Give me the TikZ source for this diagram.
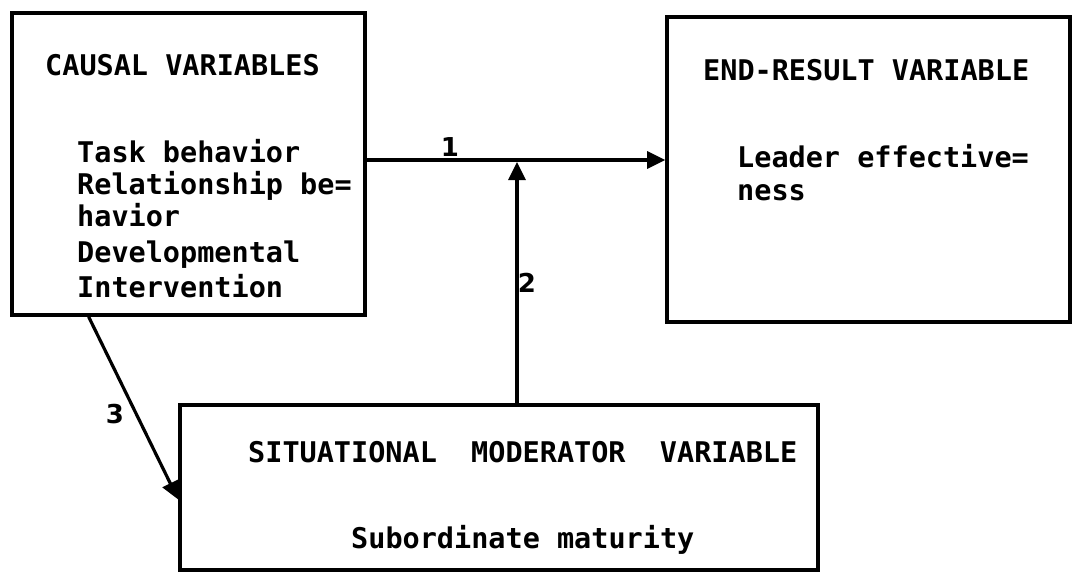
\documentclass[tikz,border=0pt]{standalone}
\usepackage{fontspec}
\usetikzlibrary{arrows.meta,calc}
\newfontfamily\twfont{DejaVu Sans Mono}
\newfontfamily\labfont{DejaVu Sans}
\tikzset{
  box/.style={draw, line width=3.6pt, inner sep=0pt},
  txt/.style={anchor=base west, inner sep=0pt, font=\twfont\bfseries\fontsize{28.5}{34}\selectfont},
  arr/.style={line width=3.2pt, -{Triangle[length=18pt,width=17pt]}},
  num/.style={inner sep=0pt, font=\labfont\bfseries\fontsize{26}{28}\selectfont}
}
\begin{document}
\begin{tikzpicture}[x=1pt,y=-1pt]
\useasboundingbox (0,0) rectangle (1074,574);
% boxes
\node[box, minimum width=353pt, minimum height=302pt] (causal) at (188.5,164) {};
\node[box, minimum width=403pt, minimum height=305pt] (endbox) at (868.5,169.5) {};
\node[box, minimum width=638pt, minimum height=165pt] (sit) at (499,487.5) {};
% texts
\node[txt] (c0) at (45,75) {CAUSAL VARIABLES};
\node[txt] (c1) at (77,162) {Task behavior};
\node[txt] (c2) at (77,194) {Relationship be=};
\node[txt] (c3) at (77,226) {havior};
\node[txt] (c4) at (77,262) {Developmental};
\node[txt] (c5) at (77,297) {Intervention};
\node[txt] (e0) at (703,80) {END-RESULT VARIABLE};
\node[txt] (e1) at (737,167) {Leader effective=};
\node[txt] (e2) at (737,200) {ness};
\node[txt] (s0) at (248,462) {SITUATIONAL~~MODERATOR~~VARIABLE};
\node[txt] (s1) at (351,548) {Subordinate maturity};
% connectors
\coordinate (j) at (517,160);
\coordinate (jt) at (517,162);
\draw[arr] (causal.east |- j) -- (endbox.west |- j);
\draw[arr] (sit.north -| jt) -- (jt);
\draw[arr] ($(causal.south west)!0.22!(causal.south east)$) -- ([yshift=-12pt]sit.west);
% labels
\node[num] (n1) at (450,147) {1};
\node[num] (n2) at (527,283) {2};
\node[num] (n3) at (115,414) {3};
\end{tikzpicture}
\end{document}
